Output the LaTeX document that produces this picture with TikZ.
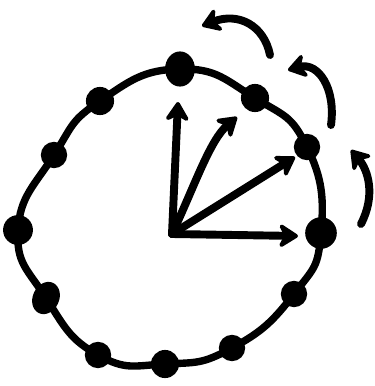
\documentclass[tikz,border=0pt]{standalone}
\usetikzlibrary{arrows.meta,shapes.geometric}
\begin{document}
\begin{tikzpicture}[x=0.02cm,y=-0.02cm,
  rim/.style={line width=4.2pt, line cap=round, line join=round},
  dot/.style={ellipse, fill=black, inner sep=0pt, minimum width=#1, minimum height=#1},
  ray/.style={line width=4.5pt, line cap=round, -{Stealth[length=4.6mm,width=5.8mm,round]}},
  turn/.style={line width=4.5pt, line cap=round, -{Stealth[length=4.4mm,width=5.8mm,round]}}]
\useasboundingbox (0,0) rectangle (375,386);
% dots on the rim
\node[dot=17pt, minimum height=20pt] (d0) at (180,69) {};
\node[dot=16pt] (d1) at (255,98) {};
\node[dot=15pt] (d2) at (307,147) {};
\node[dot=18pt] (d3) at (321,233) {};
\node[dot=15pt] (d4) at (294,294) {};
\node[dot=15pt] (d5) at (232,348) {};
\node[dot=16pt] (d6) at (165,364) {};
\node[dot=15pt] (d7) at (98,355) {};
\node[dot=15pt, minimum height=19pt, rotate=-25] (d8) at (46,298) {};
\node[dot=17pt] (d9) at (18,230) {};
\node[dot=15pt] (d10) at (54,155) {};
\node[dot=16pt] (d11) at (100,101) {};
\draw[rim] plot[smooth cycle, tension=0.85] coordinates {(d0) (d1) (d2) (d3) (d4) (d5) (d6) (d7) (d8) (d9) (d10) (d11)};
% hands
\coordinate (c) at (172,234);
\coordinate (h1) at (178,102);
\coordinate (h2) at (237,117);
\coordinate (h3) at (295,157);
\coordinate (h4) at (298,236);
\draw[ray] (c) -- (h1);
\draw[ray] (c) .. controls (195,185) and (210,140) .. (h2);
\draw[ray] (c) -- (h3);
\draw[ray] (c) -- (h4);
% rotation arrows
\coordinate (a1s) at (270,55);
\coordinate (a1e) at (202,26);
\coordinate (a2s) at (331,125);
\coordinate (a2e) at (288,70);
\coordinate (a3s) at (361,224);
\coordinate (a3e) at (351,150);
\draw[turn] (a1s) .. controls (264,25) and (238,12) .. (a1e);
\draw[turn] (a2s) .. controls (336,88) and (318,62) .. (a2e);
\draw[turn] (a3s) .. controls (376,195) and (368,170) .. (a3e);
\end{tikzpicture}
\end{document}
